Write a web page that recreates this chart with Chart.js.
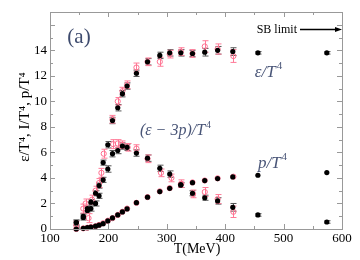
<!DOCTYPE html>
<html>
<head>
<meta charset="utf-8">
<script src="https://cdn.jsdelivr.net/npm/chart.js@4/dist/chart.umd.min.js"></script>
<style>
  body { margin: 0; background: #fff; }
</style>
</head>
<body>
<canvas id="myChart" width="360" height="260"></canvas>
<script>
// black points (one T grid for all three quantities)
const tBlack = [145, 157, 164, 170, 178, 184, 191, 199, 207, 216, 224, 232, 248, 267, 288, 305, 324, 344, 365, 387, 413, 456, 574];
const epsBlack = [0.5, 1.0, 1.6, 2.1, 2.8, 3.4, 5.2, 6.6, 8.5, 9.5, 10.6, 11.2, 12.2, 13.1, 13.6, 13.8, 13.8, 13.75, 13.85, 14.0, 13.9, 13.8, 13.8];
const intBlack = [0.5, 0.9, 1.45, 1.6, 2.0, 2.6, 3.85, 4.7, 5.9, 6.15, 6.5, 6.4, 5.95, 5.55, 4.75, 4.3, 3.45, 2.8, 2.45, 2.2, 1.7, 1.1, 0.55];
const pBlack = [0.0, 0.05, 0.1, 0.15, 0.22, 0.3, 0.42, 0.63, 0.87, 1.1, 1.34, 1.57, 2.06, 2.49, 2.93, 3.19, 3.45, 3.63, 3.79, 3.95, 4.08, 4.21, 4.42];
const errEpsBlack = [0.2, 0.2, 0.2, 0.2, 0.2, 0.2, 0.2, 0.25, 0.25, 0.25, 0.25, 0.25, 0.25, 0.25, 0.25, 0.25, 0.25, 0.25, 0.3, 0.3, 0.3, 0.1, 0.1];
const errIntBlack = [0.2, 0.2, 0.2, 0.2, 0.2, 0.2, 0.2, 0.25, 0.25, 0.25, 0.25, 0.25, 0.25, 0.25, 0.25, 0.25, 0.2, 0.2, 0.2, 0.25, 0.3, 0.1, 0.1];

// pink points
const tEpsPink = [207, 216, 224, 232, 248, 267, 288, 305, 324, 344, 365, 387, 414];
const epsPink = [8.6, 10.0, 10.8, 11.3, 12.65, 13.1, 13.1, 13.7, 13.9, 13.75, 14.3, 14.1, 13.55];
const errEpsPink = [0.3, 0.3, 0.3, 0.3, 0.35, 0.3, 0.35, 0.3, 0.3, 0.3, 0.45, 0.4, 0.5];
const tIntPink = [145, 157, 161, 166, 172, 178, 184, 188, 192, 208, 216, 224, 233, 248, 267, 290, 308, 325, 345, 365, 387, 414];
const intPink = [0.3, 1.6, 2.0, 0.85, 2.3, 3.0, 3.6, 4.4, 5.9, 6.65, 6.7, 6.6, 6.4, 6.3, 5.5, 4.4, 4.0, 3.55, 2.75, 2.9, 2.35, 1.35];
const errIntPink = [0.3, 0.35, 0.35, 0.35, 0.35, 0.35, 0.35, 0.35, 0.35, 0.35, 0.3, 0.3, 0.3, 0.3, 0.3, 0.3, 0.3, 0.3, 0.3, 0.35, 0.35, 0.45];
const tPPink = [145, 157, 164, 170, 178, 184, 191, 199, 207, 216, 224, 232, 248, 267, 288, 305, 324, 344, 365, 387, 414];
const pPink = [0.0, 0.05, 0.1, 0.15, 0.22, 0.32, 0.45, 0.65, 0.85, 1.1, 1.35, 1.6, 2.05, 2.5, 2.95, 3.2, 3.5, 3.65, 3.8, 3.97, 4.1];

const sbLimit = 15.7;

const xTicks = [100, 200, 300, 400, 500, 600];

function pts(ts, vs) {
  return ts.map((t, i) => ({x: t, y: vs[i]}));
}

const serif = "'Liberation Serif', 'DejaVu Serif', serif";
const blue = '#4a5678';
const pink = '#ff6f8f';

function blackSet(ts, vs, errs) {
  return {
    data: pts(ts, vs), errors: errs, errColor: '#555',
    backgroundColor: '#000', borderColor: '#000',
    pointRadius: 2.6, borderWidth: 0, clip: false
  };
}
function pinkSet(ts, vs, errs) {
  return {
    data: pts(ts, vs), errors: errs, errColor: '#ff7b98',
    backgroundColor: 'rgba(255,255,255,0)', borderColor: pink,
    pointRadius: 2.6, borderWidth: 1, clip: false
  };
}

const errorBars = {
  id: 'errorBars',
  beforeDatasetsDraw(chart) {
    const {ctx, scales: {x, y}} = chart;
    chart.data.datasets.forEach(ds => {
      if (!ds.errors) return;
      ctx.save();
      ctx.strokeStyle = ds.errColor;
      ctx.lineWidth = 1;
      ds.data.forEach((pt, i) => {
        const e = ds.errors[i] || 0.15;
        const px = Math.round(x.getPixelForValue(pt.x)) + 0.5;
        const t = y.getPixelForValue(pt.y + e);
        const b = y.getPixelForValue(pt.y - e);
        ctx.beginPath();
        ctx.moveTo(px, t); ctx.lineTo(px, b);
        ctx.moveTo(px - 3, t); ctx.lineTo(px + 3, t);
        ctx.moveTo(px - 3, b); ctx.lineTo(px + 3, b);
        ctx.stroke();
      });
      ctx.restore();
    });
  }
};

function supText(ctx, base, sup, x, y, size, italic) {
  ctx.font = (italic ? 'italic ' : '') + size + 'px ' + serif;
  const w1 = ctx.measureText(base).width;
  ctx.font = Math.round(size * 0.62) + 'px ' + serif;
  const w2 = ctx.measureText(sup).width;
  const x0 = x - (w1 + w2) / 2;
  ctx.textAlign = 'left';
  ctx.textBaseline = 'middle';
  ctx.font = (italic ? 'italic ' : '') + size + 'px ' + serif;
  ctx.fillText(base, x0, y);
  ctx.font = Math.round(size * 0.62) + 'px ' + serif;
  ctx.fillText(sup, x0 + w1 + 1, y - size * 0.38);
}

const frame = {
  id: 'frame',
  afterDraw(chart) {
    const {ctx, chartArea: a, scales: {x, y}} = chart;
    ctx.save();
    ctx.strokeStyle = '#999';
    ctx.lineWidth = 1;
    ctx.strokeRect(a.left + 0.5, a.top + 0.5, a.right - a.left, a.bottom - a.top);
    ctx.beginPath();
    for (let t = 100; t <= 600; t += 50) {
      const px = Math.round(x.getPixelForValue(t)) + 0.5;
      const len = t % 100 === 0 ? 5 : 3;
      ctx.moveTo(px, a.bottom); ctx.lineTo(px, a.bottom - len);
      ctx.moveTo(px, a.top); ctx.lineTo(px, a.top + len);
    }
    for (let v = 0; v <= 17; v += 1) {
      const py = Math.round(y.getPixelForValue(v)) + 0.5;
      const len = v % 2 === 0 ? 5 : 3;
      ctx.moveTo(a.left, py); ctx.lineTo(a.left + len, py);
      ctx.moveTo(a.right, py); ctx.lineTo(a.right - len, py);
    }
    ctx.stroke();

    // axis titles
    ctx.fillStyle = '#000';
    ctx.font = '14px ' + serif;
    ctx.textAlign = 'center';
    ctx.textBaseline = 'middle';
    ctx.fillText('T(MeV)', 197, 249);
    ctx.save();
    ctx.translate(25, 117);
    ctx.rotate(-Math.PI / 2);
    ctx.font = '15px ' + serif;
    ctx.fillText('\u03b5/T\u2074, I/T\u2074, p/T\u2074', 0, 0);
    ctx.restore();

    // panel labels
    ctx.fillStyle = '#3e4b6e';
    ctx.font = '21px ' + serif;
    ctx.fillText('(a)', 79, 37);
    ctx.fillStyle = blue;
    supText(ctx, '\u03b5/T', '4', 268, 73, 17, true);
    supText(ctx, '(\u03b5 \u2212 3p)/T', '4', 175, 131, 16, true);
    supText(ctx, 'p/T', '4', 272, 164, 17, true);

    // SB limit arrow
    const sy = Math.round(y.getPixelForValue(sbLimit)) + 0.5;
    ctx.fillStyle = '#000';
    ctx.strokeStyle = '#000';
    ctx.font = '12px ' + serif;
    ctx.textAlign = 'right';
    ctx.textBaseline = 'middle';
    ctx.fillText('SB limit', 297, sy);
    ctx.lineWidth = 1.5;
    ctx.beginPath();
    ctx.moveTo(300, sy); ctx.lineTo(a.right - 5, sy);
    ctx.stroke();
    ctx.beginPath();
    ctx.moveTo(a.right, sy); ctx.lineTo(a.right - 7, sy - 2.5); ctx.lineTo(a.right - 7, sy + 2.5);
    ctx.closePath();
    ctx.fill();
    ctx.restore();
  }
};

new Chart(document.getElementById('myChart'), {
  type: 'scatter',
  data: {
    datasets: [
      blackSet(tBlack, epsBlack, errEpsBlack),
      blackSet(tBlack, intBlack, errIntBlack),
      blackSet(tBlack, pBlack, null),
      pinkSet(tEpsPink, epsPink, errEpsPink),
      pinkSet(tIntPink, intPink, errIntPink),
      pinkSet(tPPink, pPink, null)
    ]
  },
  options: {
    responsive: false,
    animation: false,
    devicePixelRatio: 1,
    layout: { padding: { top: 12, right: 18, left: 0, bottom: 0 } },
    plugins: { legend: { display: false }, tooltip: { enabled: false } },
    scales: {
      x: {
        type: 'linear', min: 100, max: 600,
        afterBuildTicks: s => { s.ticks = xTicks.map(v => ({value: v})); },
        afterFit: s => { s.height = 31; },
        grid: { display: false, drawTicks: false },
        border: { display: false },
        ticks: { color: '#000', padding: 2, maxRotation: 0, font: { family: serif, size: 13 } }
      },
      y: {
        min: 0, max: 17,
        afterBuildTicks: s => { s.ticks = s.ticks.filter(t => t.value % 2 === 0); },
        afterFit: s => { s.width = 50; },
        grid: { display: false, drawTicks: false },
        border: { display: false },
        ticks: { color: '#000', padding: 3, stepSize: 2, font: { family: serif, size: 13 } }
      }
    }
  },
  plugins: [errorBars, frame]
});
</script>
</body>
</html>
